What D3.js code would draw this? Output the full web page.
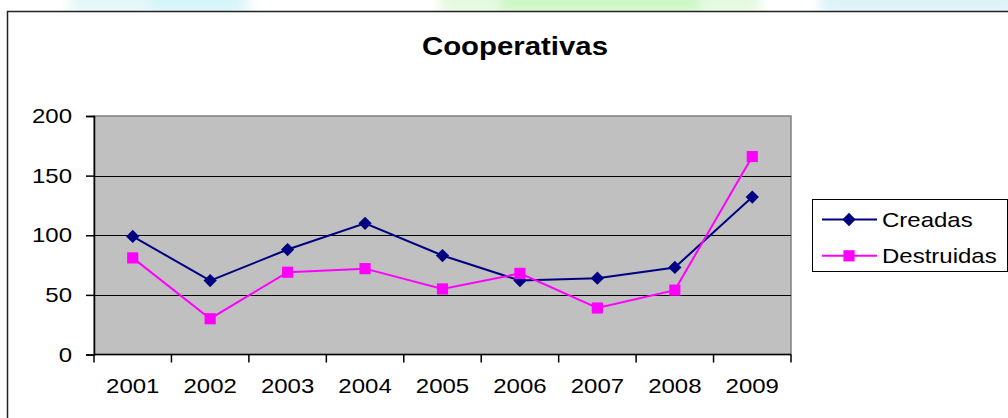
<!DOCTYPE html>
<html>
<head>
<meta charset="utf-8">
<script src="https://cdn.jsdelivr.net/npm/d3@7"></script>
<style>
  body { margin: 0; background: #fff; }
  svg text { font-family: Arial, "Liberation Sans", sans-serif; fill: #000; }
</style>
</head>
<body>
<div id="chart"></div>
<script>
/* data */
var years      = ["2001", "2002", "2003", "2004", "2005", "2006", "2007", "2008", "2009"];
var creadas    = [99, 62, 88, 110, 83, 62, 64, 73, 132];
var destruidas = [81, 30, 69, 72, 55, 68, 39, 54, 166];
var yTicks     = [0, 50, 100, 150, 200];
var seriesNames = ["Creadas", "Destruidas"];

var width = 1008, height = 418;

var svg = d3.select("#chart").append("svg")
  .attr("width", width)
  .attr("height", height);

svg.append("defs").append("filter")
  .attr("id", "soft")
  .append("feGaussianBlur")
  .attr("stdDeviation", 6);

// faint watermark strip above the chart frame
var wash = [
  {x0: 70,  x1: 250, c: "#e3f7f8"},
  {x0: 150, x1: 240, c: "#d4f4fa"},
  {x0: 440, x1: 760, c: "#e4f9e0"},
  {x0: 500, x1: 700, c: "#cdf7c6"},
  {x0: 820, x1: 1020, c: "#dcf3fa"}
];
svg.append("g").attr("filter", "url(#soft)")
  .selectAll(".wash").data(wash).enter().append("rect")
  .attr("x", function(d) { return d.x0; })
  .attr("y", -10)
  .attr("width", function(d) { return d.x1 - d.x0; })
  .attr("height", 24)
  .attr("fill", function(d) { return d.c; });

// chart frame (runs past the right / bottom edge)
svg.append("rect")
  .attr("x", 7.5).attr("y", 11.5)
  .attr("width", width + 20).attr("height", height + 20)
  .attr("fill", "#fff")
  .attr("stroke", "#222")
  .attr("stroke-width", 1.5);

// title
svg.append("text")
  .attr("transform", "translate(515,55) scale(1.13,1)")
  .attr("text-anchor", "middle")
  .style("font-size", "26px")
  .style("font-weight", "bold")
  .text("Cooperativas");

/* plot area */
var plot = {left: 94, top: 116, right: 791, bottom: 354.5};

var x = d3.scaleBand()
  .domain(years)
  .range([plot.left, plot.right]);

var y = d3.scaleLinear()
  .domain([0, 200])
  .range([plot.bottom, plot.top]);

svg.append("rect")
  .attr("x", plot.left).attr("y", plot.top)
  .attr("width", plot.right - plot.left)
  .attr("height", plot.bottom - plot.top)
  .attr("fill", "#c0c0c0")
  .attr("stroke", "#808080")
  .attr("stroke-width", 1.5);

// gridlines
svg.selectAll(".grid").data(yTicks.slice(1, 4)).enter().append("line")
  .attr("x1", plot.left).attr("x2", plot.right)
  .attr("y1", function(d) { return Math.round(y(d)) + 0.5; })
  .attr("y2", function(d) { return Math.round(y(d)) + 0.5; })
  .attr("stroke", "#000")
  .attr("stroke-width", 1);

// y axis
var yAxis = svg.append("g")
  .attr("transform", "translate(" + plot.left + ",0)")
  .call(d3.axisLeft(y).tickValues(yTicks).tickSize(8).tickFormat(""));
yAxis.select(".domain").attr("stroke", "#000").attr("stroke-width", 1.5);
yAxis.selectAll(".tick line").attr("stroke", "#000").attr("stroke-width", 1.5);

svg.selectAll(".ylab").data(yTicks).enter().append("text")
  .attr("transform", function(d) { return "translate(72," + (y(d) + 7) + ") scale(1.2,1)"; })
  .attr("text-anchor", "end")
  .style("font-size", "20px")
  .text(function(d) { return d; });

// x axis
var xEdges = years.map(function(d) { return x(d); }).concat([plot.right]);
var xAxis = svg.append("g");
xAxis.append("line")
  .attr("x1", plot.left).attr("x2", plot.right)
  .attr("y1", plot.bottom).attr("y2", plot.bottom)
  .attr("stroke", "#000").attr("stroke-width", 1.5);
xAxis.selectAll(".xt").data(xEdges).enter().append("line")
  .attr("x1", function(d) { return d; }).attr("x2", function(d) { return d; })
  .attr("y1", plot.bottom).attr("y2", plot.bottom + 8)
  .attr("stroke", "#000").attr("stroke-width", 1.5);

svg.selectAll(".xlab").data(years).enter().append("text")
  .attr("transform", function(d) { return "translate(" + (x(d) + x.bandwidth() / 2) + ",393) scale(1.2,1)"; })
  .attr("text-anchor", "middle")
  .style("font-size", "20px")
  .text(function(d) { return d; });

/* series */
var series = [
  {name: seriesNames[0], values: creadas,    color: "#000080", rot: 45, size: 88},
  {name: seriesNames[1], values: destruidas, color: "#ff00ff", rot: 0,  size: 125}
];

var line = d3.line()
  .x(function(d, i) { return x(years[i]) + x.bandwidth() / 2; })
  .y(function(d) { return y(d); });

series.forEach(function(s) {
  svg.append("path")
    .datum(s.values)
    .attr("d", line)
    .attr("fill", "none")
    .attr("stroke", s.color)
    .attr("stroke-width", 2);
});

series.forEach(function(s) {
  svg.selectAll(null).data(s.values).enter().append("path")
    .attr("d", d3.symbol().type(d3.symbolSquare).size(s.size))
    .attr("transform", function(d, i) {
      return "translate(" + (x(years[i]) + x.bandwidth() / 2) + "," + y(d) + ") rotate(" + s.rot + ")";
    })
    .attr("fill", s.color);
});

/* legend */
var legend = svg.append("g");
legend.append("rect")
  .attr("x", 812.5).attr("y", 199.5)
  .attr("width", 195).attr("height", 72)
  .attr("fill", "#fff")
  .attr("stroke", "#000")
  .attr("stroke-width", 1);

series.forEach(function(s, i) {
  var ly = 219.5 + i * 36.3;
  legend.append("line")
    .attr("x1", 822).attr("x2", 877)
    .attr("y1", ly).attr("y2", ly)
    .attr("stroke", s.color).attr("stroke-width", 2);
  legend.append("path")
    .attr("d", d3.symbol().type(d3.symbolSquare).size(s.size))
    .attr("transform", "translate(849," + ly + ") rotate(" + s.rot + ")")
    .attr("fill", s.color);
  legend.append("text")
    .attr("transform", "translate(882," + (ly + 7.5) + ") scale(1.2,1)")
    .style("font-size", "20px")
    .text(s.name);
});
</script>
</body>
</html>
